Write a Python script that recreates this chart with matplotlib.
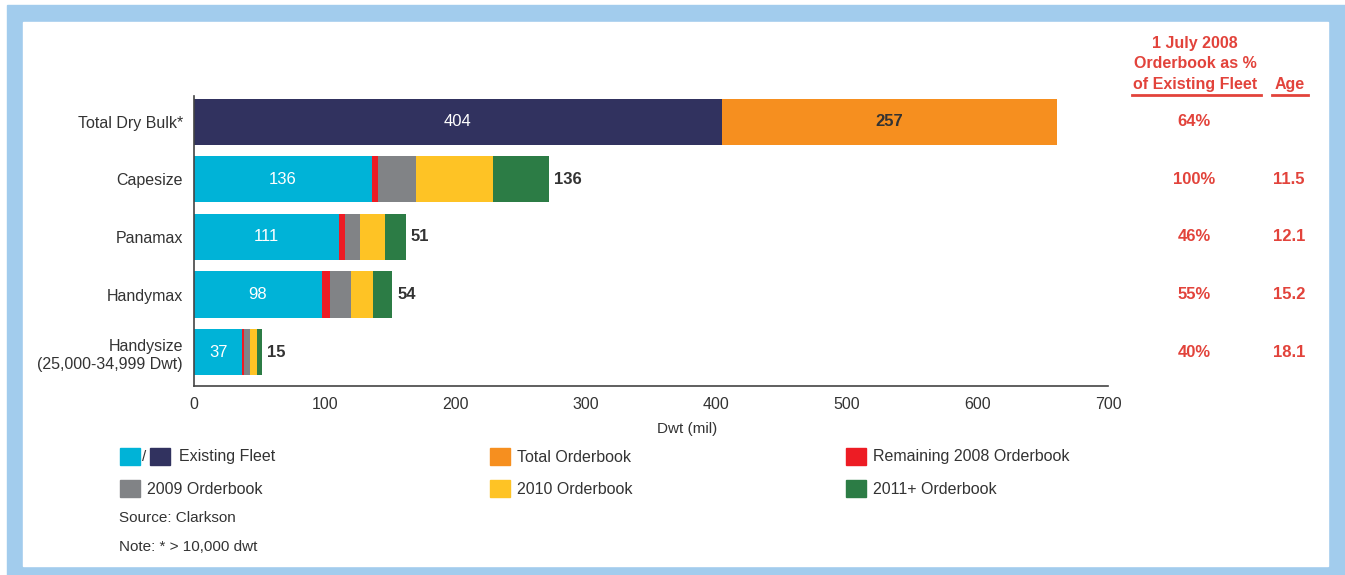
import matplotlib
matplotlib.use("Agg")
import matplotlib.pyplot as plt
import matplotlib.transforms as mtransforms
from matplotlib.patches import Rectangle
from matplotlib.lines import Line2D
import numpy as np

plt.rcParams['font.family'] = ['Liberation Sans', 'DejaVu Sans']

# data
categories = ["Total Dry Bulk*", "Capesize", "Panamax", "Handymax",
              "Handysize\n(25,000-34,999 Dwt)"]
existing = [404, 136, 111, 98, 37]
total_orderbook = [257, 0, 0, 0, 0]
rem_2008 = [0, 5, 4.5, 6, 1.5]
ob_2009 = [0, 29, 11.5, 16, 4.5]
ob_2010 = [0, 59, 19, 17, 5.3]
ob_2011 = [0, 43, 16, 15, 3.7]
orderbook_labels = ["257", "136", "51", "54", "15"]
pct_of_fleet = ["64%", "100%", "46%", "55%", "40%"]
ages = ["", "11.5", "12.1", "15.2", "18.1"]
xticks = [0, 100, 200, 300, 400, 500, 600, 700]

CYAN = "#00b3d7"
NAVY = "#31325f"
ORANGE = "#f68f1f"
RED = "#ed1c24"
GREY = "#818386"
YELLOW = "#fec325"
GREEN = "#2c7c45"
TXT = "#333333"
RTXT = "#e2433b"
BLUE = "#a2cced"

W, H = 1345, 575
fig = plt.figure(figsize=(W / 100, H / 100), dpi=100)


def fx(px):
    return px / W


def fy(py):
    return 1 - py / H


# frame
fig.patches.append(Rectangle((fx(7), 0), fx(W - 7), fy(5), transform=fig.transFigure,
                             color=BLUE, zorder=0))
fig.patches.append(Rectangle((fx(23), fy(566)), fx(1328 - 23), (566 - 22) / H,
                             transform=fig.transFigure, color="white", zorder=0.5))

ax = fig.add_axes([fx(194), fy(386), fx(1108 - 194), (386 - 96) / H])
ax.set_facecolor("none")
ax.set_zorder(2)

y = np.arange(len(categories))
h = 0.8
bar_colors = [NAVY] + [CYAN] * 4
ax.barh(y, existing, height=h, color=bar_colors)
left = np.array(existing, dtype=float)
for vals, col in [(total_orderbook, ORANGE), (rem_2008, RED), (ob_2009, GREY),
                  (ob_2010, YELLOW), (ob_2011, GREEN)]:
    ax.barh(y, vals, left=left, height=h, color=col)
    left = left + np.array(vals)

for i in range(len(categories)):
    ax.text(existing[i] / 2, y[i], str(existing[i]), color="white", ha="center",
            va="center", fontsize=12)
    if total_orderbook[i] > 0:
        ax.text(existing[i] + total_orderbook[i] / 2, y[i], orderbook_labels[i],
                color=TXT, ha="center", va="center", fontsize=12, fontweight="bold")
    else:
        ax.text(left[i] + 4, y[i], orderbook_labels[i], color=TXT, ha="left",
                va="center", fontsize=12, fontweight="bold")

ax.set_xlim(0, 700)
ax.set_ylim(4.59, -0.45)
ax.set_xticks(xticks)
ax.set_xticklabels([str(t) for t in xticks], fontsize=11.5, color=TXT)
ax.set_yticks(y)
ax.set_yticklabels(categories, fontsize=11.5, color=TXT, linespacing=1.3)
ax.tick_params(axis="both", length=0)
ax.tick_params(axis="x", pad=8)
ax.tick_params(axis="y", pad=8)
for s in ["top", "right"]:
    ax.spines[s].set_visible(False)
for s in ["left", "bottom"]:
    ax.spines[s].set_color("#444444")
    ax.spines[s].set_linewidth(1.2)
ax.set_xlabel("Dwt (mil)", fontsize=11, color=TXT, labelpad=7, x=0.54)

# right-hand columns
tr = mtransforms.blended_transform_factory(fig.transFigure, ax.transData)
for i in range(len(categories)):
    ax.text(fx(1194), y[i], pct_of_fleet[i], transform=tr, ha="center", va="center",
            fontsize=12, fontweight="bold", color=RTXT)
    if ages[i]:
        ax.text(fx(1289), y[i], ages[i], transform=tr, ha="center", va="center",
                fontsize=12, fontweight="bold", color=RTXT)

fig.text(fx(1195), fy(64), "1 July 2008\nOrderbook as %\nof Existing Fleet", ha="center",
         va="center", fontsize=11.5, fontweight="bold", color=RTXT, linespacing=1.45)
fig.text(fx(1290), fy(84), "Age", ha="center", va="center", fontsize=11.5,
         fontweight="bold", color=RTXT)
fig.lines.append(Line2D([fx(1132), fx(1261)], [fy(95), fy(95)], transform=fig.transFigure,
                        color=RTXT, lw=2))
fig.lines.append(Line2D([fx(1272), fx(1308)], [fy(95), fy(95)], transform=fig.transFigure,
                        color=RTXT, lw=2))


# legend
def sq(px, py, col):
    fig.patches.append(Rectangle((fx(px), fy(py + 17)), fx(20), 17 / H,
                                 transform=fig.transFigure, color=col, zorder=2))


sq(120, 448, CYAN)
fig.text(fx(142), fy(457), "/", ha="left", va="center", fontsize=11, color=TXT)
sq(150, 448, NAVY)
fig.text(fx(179), fy(457), "Existing Fleet", ha="left", va="center", fontsize=11.5, color=TXT)
legend_items = [
    (490, 448, ORANGE, "Total Orderbook"),
    (846, 448, RED, "Remaining 2008 Orderbook"),
    (120, 480, GREY, "2009 Orderbook"),
    (490, 480, YELLOW, "2010 Orderbook"),
    (846, 480, GREEN, "2011+ Orderbook"),
]
for px, py, col, lab in legend_items:
    sq(px, py, col)
    fig.text(fx(px + 27), fy(py + 9), lab, ha="left", va="center", fontsize=11.5, color=TXT)

fig.text(fx(119), fy(518), "Source: Clarkson", ha="left", va="center", fontsize=11, color=TXT)
fig.text(fx(119), fy(547), "Note: * > 10,000 dwt", ha="left", va="center", fontsize=11,
         color=TXT)

fig.savefig("out.png", dpi=100)
